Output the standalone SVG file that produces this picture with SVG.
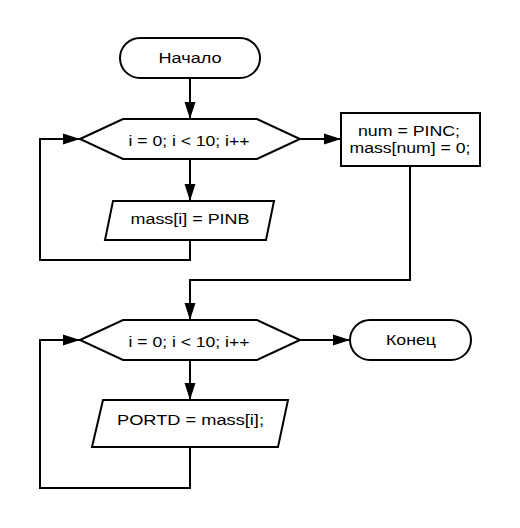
<svg xmlns="http://www.w3.org/2000/svg" width="520" height="528" viewBox="0 0 520 528">
  <style>
    .shape { fill: #ffffff; stroke: #000000; stroke-width: 2; }
    .conn { fill: none; stroke: #000000; stroke-width: 2; }
    .lbl { font-family: "Liberation Sans", Arial, sans-serif; font-size: 15.5px; fill: #000000; text-anchor: middle; }
  </style>
  <defs>
    <marker id="arrow" markerUnits="userSpaceOnUse" markerWidth="18" markerHeight="12" refX="17" refY="6" orient="auto">
      <path d="M0,0.5 L17,6 L0,11.5 z" fill="#000000"/>
    </marker>
  </defs>
  <rect width="520" height="528" fill="#ffffff"/>

  <g id="connectors">
    <path class="conn" d="M190,78 L190,119" marker-end="url(#arrow)"/>
    <path class="conn" d="M190,159 L190,201" marker-end="url(#arrow)"/>
    <path class="conn" d="M190,240 L190,260 L40,260 L40,139 L80,139" marker-end="url(#arrow)"/>
    <path class="conn" d="M300,139 L341,139" marker-end="url(#arrow)"/>
    <path class="conn" d="M410,166 L410,280 L190,280 L190,320" marker-end="url(#arrow)"/>
    <path class="conn" d="M190,360 L190,400" marker-end="url(#arrow)"/>
    <path class="conn" d="M190,447 L190,488 L40,488 L40,340 L80,340" marker-end="url(#arrow)"/>
    <path class="conn" d="M300,340 L350,340" marker-end="url(#arrow)"/>
  </g>

  <g id="start">
    <rect class="shape" x="120" y="38" width="140" height="40" rx="20" ry="20"/>
    <text class="lbl" x="190" y="63" textLength="63" lengthAdjust="spacingAndGlyphs">Начало</text>
  </g>

  <g id="loop1">
    <polygon class="shape" points="80,139 123,119 257,119 300,139 257,159 123,159"/>
    <text class="lbl" x="189" y="145.5" textLength="121" lengthAdjust="spacingAndGlyphs">i = 0; i &lt; 10; i++</text>
  </g>

  <g id="read">
    <polygon class="shape" points="113,201 274,201 266,240 105,240"/>
    <text class="lbl" x="190" y="223.5" textLength="119" lengthAdjust="spacingAndGlyphs">mass[i] = PINB</text>
  </g>

  <g id="process">
    <rect class="shape" x="341" y="113" width="139" height="53"/>
    <text class="lbl" x="409" y="136" textLength="102" lengthAdjust="spacingAndGlyphs">num = PINC;</text>
    <text class="lbl" x="410" y="153" textLength="121" lengthAdjust="spacingAndGlyphs">mass[num] = 0;</text>
  </g>

  <g id="loop2">
    <polygon class="shape" points="80,340 123,320 257,320 300,340 257,360 123,360"/>
    <text class="lbl" x="189" y="346.5" textLength="121" lengthAdjust="spacingAndGlyphs">i = 0; i &lt; 10; i++</text>
  </g>

  <g id="end">
    <rect class="shape" x="350" y="320" width="121" height="40" rx="20" ry="20"/>
    <text class="lbl" x="411" y="344.5" textLength="50" lengthAdjust="spacingAndGlyphs">Конец</text>
  </g>

  <g id="write">
    <polygon class="shape" points="103,400 288,400 278,447 92,447"/>
    <text class="lbl" x="190.5" y="425" textLength="147" lengthAdjust="spacingAndGlyphs">PORTD = mass[i];</text>
  </g>
</svg>
